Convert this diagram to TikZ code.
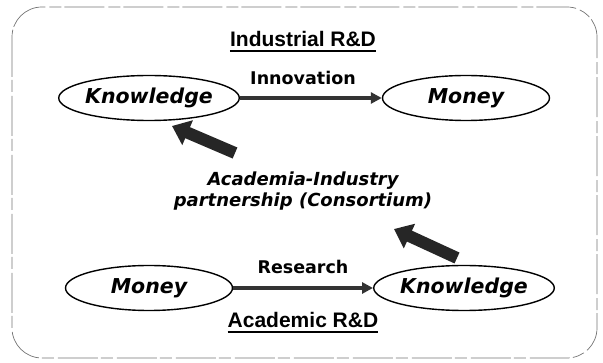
\documentclass[tikz,border=0pt]{standalone}
\usepackage{fontspec}
\usetikzlibrary{shapes.geometric,arrows.meta}
\newfontfamily\verd{DejaVu Sans}
\newfontfamily\arial{Liberation Sans}
\begin{document}
\begin{tikzpicture}[x=1pt,y=-1pt,
  oval/.style={ellipse,draw,line width=1.4pt,minimum width=167pt,minimum height=45pt,inner sep=0pt,font=\verd\bfseries\itshape\fontsize{20.5}{24}\selectfont},
  lbl/.style={font=\verd\bfseries\fontsize{17.5}{21}\selectfont,inner sep=0pt},
  mid/.style={font=\verd\bfseries\itshape\fontsize{18}{21}\selectfont,inner sep=0pt},
  ttl/.style={font=\arial\bfseries\fontsize{21}{25}\selectfont,inner sep=0pt},
  flow/.style={line width=3.4pt,draw=black!80,-{Triangle[length=11pt,width=11pt]}},
  big/.style={line width=12pt,draw=black!85,-{Triangle[length=17pt,width=26pt]}}]
\useasboundingbox (0,0) rectangle (603,363);
\draw[black!55,line width=0.7pt,rounded corners=30pt,dash pattern=on 40pt off 3pt on 12pt off 4pt] (12,7) rectangle (597,358);

\node[ttl,anchor=base] (ind) at (303,47) {Industrial R\&D};
\draw[line width=1.5pt] ([yshift=-4pt]ind.base west) -- ([yshift=-4pt]ind.base east);

\node[oval] (k1) at (149,98) {Knowledge};
\node[oval] (m1) at (466,98) {Money};
\draw[flow] (k1.east) -- (m1.west);
\node[lbl,anchor=base] (inn) at (303,85) {Innovation};

\node[mid,anchor=base] (c1) at (303,186) {Academia-Industry};
\node[mid,anchor=base] (c2) at (303,207) {partnership (Consortium)};

\coordinate (t1) at (235,153);
\coordinate (h1) at (172,126);
\draw[big] (t1) -- (h1);
\coordinate (t2) at (457,258);
\coordinate (h2) at (394,229);
\draw[big] (t2) -- (h2);

\node[oval] (m2) at (149,288) {Money};
\node[oval] (k2) at (464,288) {Knowledge};
\draw[flow] (m2.east) -- (k2.west);
\node[lbl,anchor=base] (res) at (303,274) {Research};

\node[ttl,anchor=base] (aca) at (303,328) {Academic R\&D};
\draw[line width=1.5pt] ([yshift=-4pt]aca.base west) -- ([yshift=-4pt]aca.base east);
\end{tikzpicture}
\end{document}
